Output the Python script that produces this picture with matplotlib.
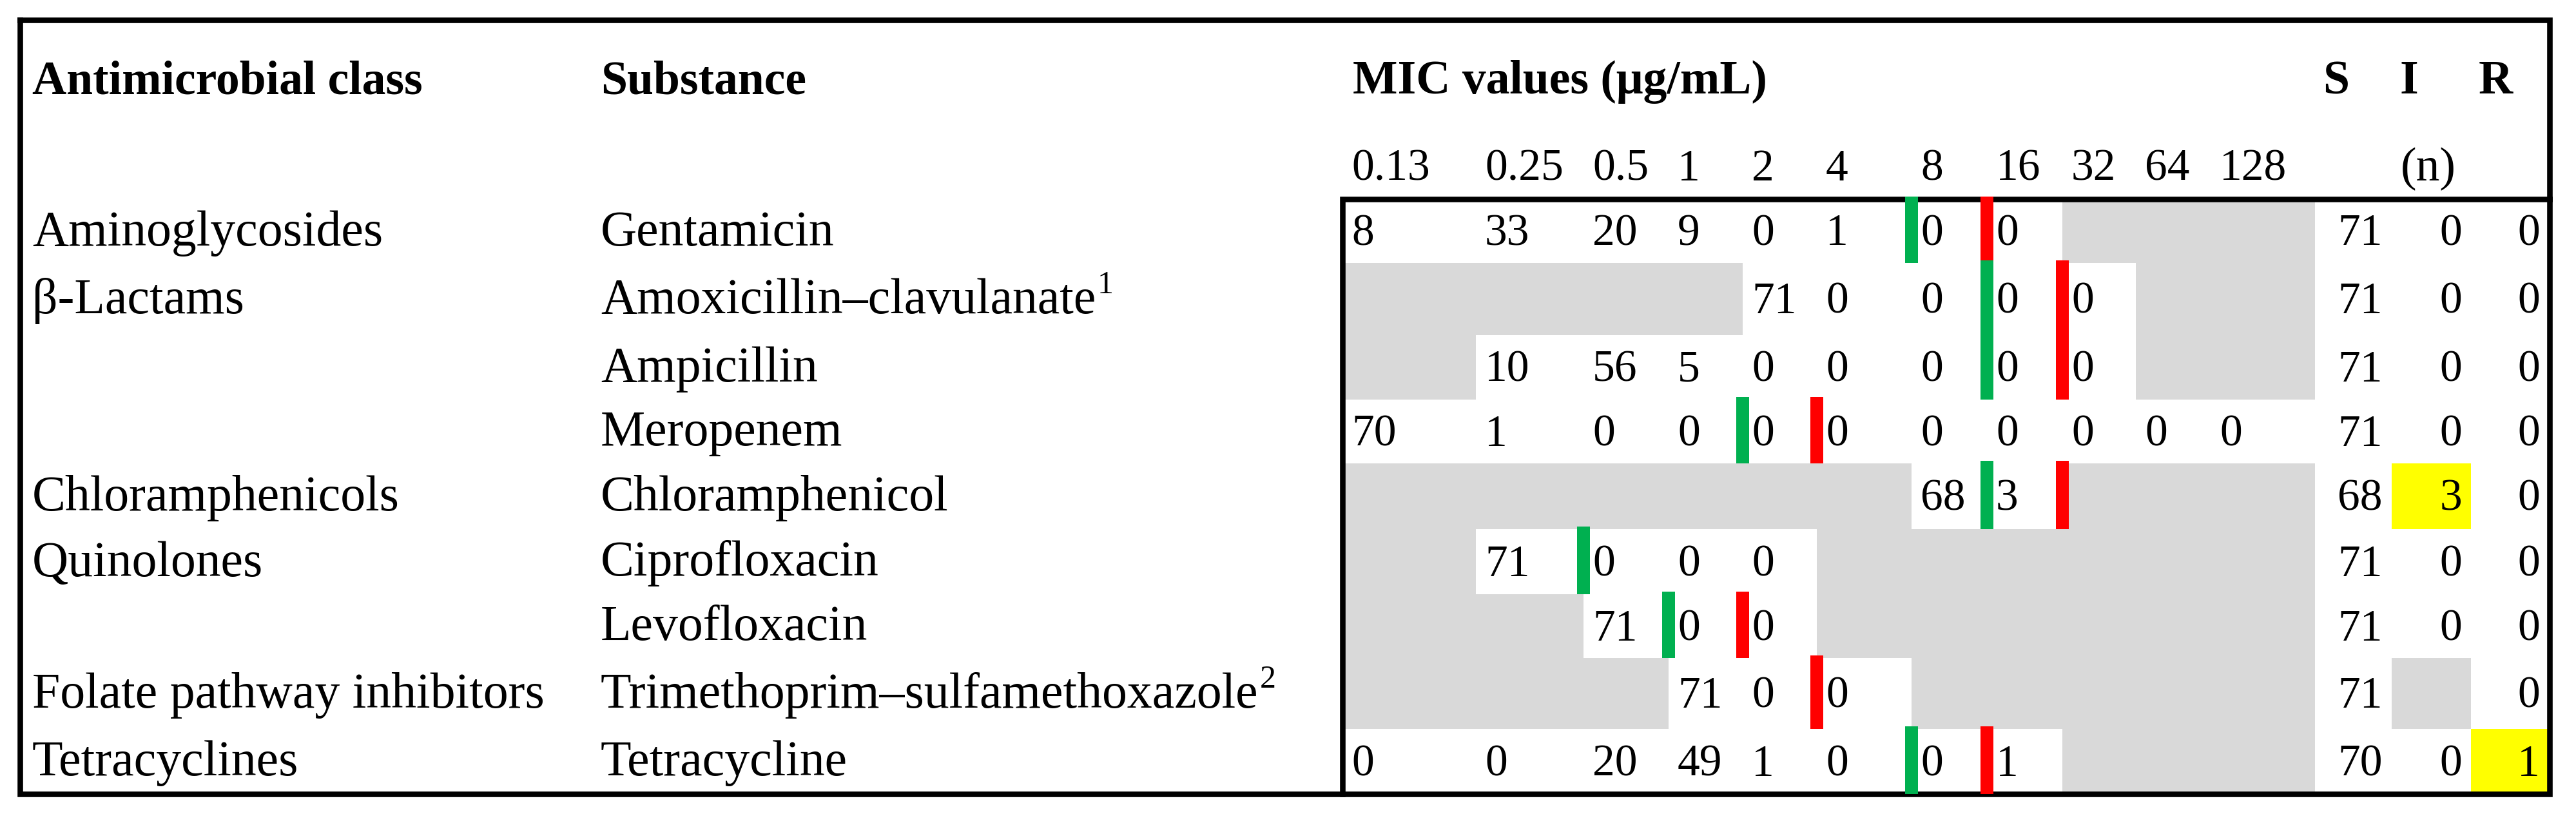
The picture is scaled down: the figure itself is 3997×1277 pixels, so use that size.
import matplotlib.pyplot as plt
from matplotlib.patches import Rectangle

plt.rcParams['font.family'] = ['Liberation Serif', 'DejaVu Serif']

# ---- data ----
mic_labels = ['0.13', '0.25', '0.5', '1', '2', '4', '8', '16', '32', '64', '128']
classes = ['Aminoglycosides', 'β-Lactams', '', '', 'Chloramphenicols', 'Quinolones', '',
           'Folate pathway inhibitors', 'Tetracyclines']
substances = ['Gentamicin', 'Amoxicillin–clavulanate', 'Ampicillin', 'Meropenem',
              'Chloramphenicol', 'Ciprofloxacin', 'Levofloxacin',
              'Trimethoprim–sulfamethoxazole', 'Tetracycline']
footnotes = ['', '1', '', '', '', '', '', '2', '']
N = None
gentamicin = [8, 33, 20, 9, 0, 1, 0, 0, N, N, N]
amox_clav = [N, N, N, N, 71, 0, 0, 0, 0, N, N]
ampicillin = [N, 10, 56, 5, 0, 0, 0, 0, 0, N, N]
meropenem = [70, 1, 0, 0, 0, 0, 0, 0, 0, 0, 0]
chloramphenicol = [N, N, N, N, N, N, 68, 3, N, N, N]
ciprofloxacin = [N, 71, 0, 0, 0, N, N, N, N, N, N]
levofloxacin = [N, N, 71, 0, 0, N, N, N, N, N, N]
trim_sulfa = [N, N, N, 71, 0, 0, N, N, N, N, N]
tetracycline = [0, 0, 20, 49, 1, 0, 0, 1, N, N, N]
mic_counts = [gentamicin, amox_clav, ampicillin, meropenem, chloramphenicol,
              ciprofloxacin, levofloxacin, trim_sulfa, tetracycline]
s_counts = [71, 71, 71, 71, 68, 71, 71, 71, 70]
i_counts = [0, 0, 0, 0, 3, 0, 0, N, 0]
r_counts = [0, 0, 0, 0, 0, 0, 0, 0, 1]
# breakpoint bars sit on the left edge of these MIC columns
green_before = ['8', '16', '16', '2', '16', '0.5', '1', N, '8']
red_before = ['16', '32', '32', '4', '32', N, '2', '4', '16']
highlight = [(4, 'I'), (8, 'R')]

# ---- layout (pixels) ----
W, H = 3997, 1277
col_edges = [2083, 2290, 2457, 2589, 2704, 2819, 2966, 3083, 3200, 3314, 3430,
             3592, 3711, 3834, 3955]
row_edges = [309, 408, 520, 620, 719, 821, 922, 1021, 1131, 1232]
fs = 50      # numbers
fs_head = 53  # bold headers
fs_lab = 56  # row labels
gray, green, red, yellow = '#D9D9D9', '#00B050', '#FF0000', '#FFFF00'

fig = plt.figure(figsize=(W / 100, H / 100), dpi=100)
ax = fig.add_axes([0, 0, 1, 1])
ax.set_xlim(0, W)
ax.set_ylim(H, 0)
ax.axis('off')
renderer = fig.canvas.get_renderer()

# headers
ax.text(50, 145, 'Antimicrobial class', fontsize=fs_head, fontweight='bold', va='baseline')
ax.text(932, 145, 'Substance', fontsize=fs_head, fontweight='bold', va='baseline')
ax.text(col_edges[0] + 16, 145, 'MIC values (μg/mL)', fontsize=fs_head, fontweight='bold', va='baseline')
for j, lab in enumerate(['S', 'I', 'R']):
    ax.text(col_edges[11 + j] + 12, 145, lab, fontsize=fs_head, fontweight='bold', va='baseline')
for j, lab in enumerate(mic_labels):
    ax.text(col_edges[j] + 14, 280, lab, fontsize=fs, va='baseline')
ax.text(col_edges[12] + 14, 280, '(n)', fontsize=fs_head, va='baseline')

sir_cols = {'S': 11, 'I': 12, 'R': 13}
for i in range(len(substances)):
    top, bot = row_edges[i], row_edges[i + 1]
    base = (top + bot) / 2 + 22
    ax.text(50, base, classes[i], fontsize=fs_lab, va='baseline')
    t = ax.text(932, base, substances[i], fontsize=fs_lab, va='baseline')
    if footnotes[i]:
        bb = t.get_window_extent(renderer)
        x_end = ax.transData.inverted().transform((bb.x1, bb.y0))[0]
        ax.text(x_end + 2, base - 31, footnotes[i], fontsize=fs * 0.72, va='baseline')
    for j, v in enumerate(mic_counts[i]):
        x0, x1 = col_edges[j], col_edges[j + 1]
        if v is None:
            ax.add_patch(Rectangle((x0, top), x1 - x0, bot - top, color=gray, lw=0, zorder=1))
        else:
            ax.text(x0 + 14, base, str(v), fontsize=fs, va='baseline', zorder=3)
    for key, vals in zip(['S', 'I', 'R'], [s_counts, i_counts, r_counts]):
        j = sir_cols[key]
        x0, x1 = col_edges[j], col_edges[j + 1]
        v = vals[i]
        if v is None:
            ax.add_patch(Rectangle((x0, top), x1 - x0, bot - top, color=gray, lw=0, zorder=1))
            continue
        if (i, key) in highlight:
            ax.add_patch(Rectangle((x0, top), x1 - x0, bot - top, color=yellow, lw=0, zorder=1))
        ax.text(x1 - 14, base, str(v), fontsize=fs, va='baseline', ha='right', zorder=3)
    for lab, c in [(green_before[i], green), (red_before[i], red)]:
        if lab is None:
            continue
        xe = col_edges[mic_labels.index(lab)]
        ax.add_patch(Rectangle((xe - 10, top - 4), 20, bot - top + 4, color=c, lw=0, zorder=5))

# frames
lw = 6.2
ax.plot([31, 3956, 3956, 31, 31], [31, 31, 1232, 1232, 31], color='black', lw=lw,
        solid_joinstyle='miter', zorder=4)
ax.plot([3956, col_edges[0], col_edges[0]], [row_edges[0], row_edges[0], 1232],
        color='black', lw=lw, solid_joinstyle='miter', zorder=4)

fig.savefig('out.png', dpi=100, facecolor='white')
